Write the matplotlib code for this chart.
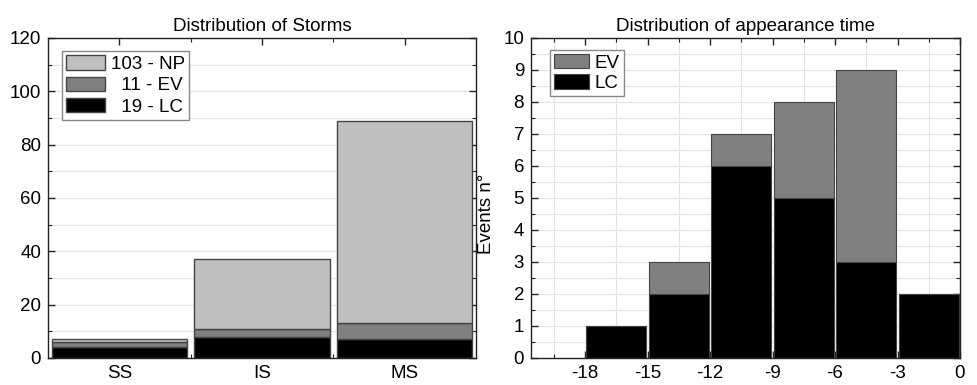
import numpy as np
import matplotlib
matplotlib.use('Agg')
import matplotlib.pyplot as plt
from matplotlib.ticker import MultipleLocator, FixedLocator

plt.rcParams['font.family'] = ['Liberation Sans', 'DejaVu Sans']
plt.rcParams['font.size'] = 13.5
plt.rcParams['axes.unicode_minus'] = False

# left panel: storm classes
storm_classes = ['SS', 'IS', 'MS']
storm_lc = [4, 8, 7]
storm_ev = [2, 3, 6]
storm_np = [1, 26, 76]

# right panel: appearance time bins (left edge of each 3-unit bin)
time_bins = [-18, -15, -12, -9, -6, -3]
time_lc = [1, 2, 6, 5, 3, 2]
time_ev = [0, 1, 1, 3, 6, 0]

c_np = '#c0c0c0'
c_ev = '#808080'
c_lc = '#000000'
edge = '#444444'
fs = 13.5

fig = plt.figure(figsize=(9.78, 3.85), dpi=100)
ax1 = fig.add_axes([48 / 978, 27 / 385, 428 / 978, 320 / 385])
ax2 = fig.add_axes([531 / 978, 27 / 385, 429 / 978, 320 / 385])

# ---- left ----
x = np.arange(len(storm_classes))
lc = np.array(storm_lc)
ev = np.array(storm_ev)
npv = np.array(storm_np)
w = 0.95
ax1.bar(x, lc, w, color=c_lc, edgecolor=edge, lw=1, zorder=3,
        label=f'\u2007{lc.sum()} - LC')
ax1.bar(x, ev, w, bottom=lc, color=c_ev, edgecolor=edge, lw=1, zorder=3,
        label=f'\u2007{ev.sum()} - EV')
ax1.bar(x, npv, w, bottom=lc + ev, color=c_np, edgecolor=edge, lw=1, zorder=3,
        label=f'{npv.sum()} - NP')
ax1.set_xlim(-0.5, 2.5)
ax1.set_ylim(0, 120)
ax1.set_xticks(x)
ax1.set_xticklabels(storm_classes)
ax1.xaxis.set_minor_locator(FixedLocator([0.5, 1.5]))
ax1.yaxis.set_major_locator(MultipleLocator(20))
ax1.yaxis.set_minor_locator(MultipleLocator(10))
ax1.grid(True, which='both', axis='y', color='#e4e4e4', lw=0.8, zorder=0)
ax1.set_title('Distribution of Storms', fontsize=fs, pad=5)
h, l = ax1.get_legend_handles_labels()
ax1.legend(h[::-1], l[::-1], loc='upper left', bbox_to_anchor=(0.033, 0.958),
           borderaxespad=0, fancybox=False, edgecolor='#888888', framealpha=1,
           handlelength=2.1, handleheight=0.8, labelspacing=0.2,
           handletextpad=0.3, borderpad=0.2, fontsize=fs)

# ---- right ----
tb = np.array(time_bins) + 1.5
tlc = np.array(time_lc)
tev = np.array(time_ev)
ax2.bar(tb, tlc, 2.88, color=c_lc, edgecolor=edge, lw=0.8, zorder=3, label='LC')
ax2.bar(tb, tev, 2.88, bottom=tlc, color=c_ev, edgecolor=edge, lw=0.8, zorder=3,
        label='EV')
ax2.set_xlim(-20.6, 0)
ax2.set_ylim(0, 10)
ax2.xaxis.set_major_locator(FixedLocator(np.arange(-18, 1, 3)))
ax2.xaxis.set_minor_locator(FixedLocator(np.arange(-19.5, 0, 3)))
ax2.yaxis.set_major_locator(MultipleLocator(1))
ax2.yaxis.set_minor_locator(MultipleLocator(0.5))
ax2.grid(True, which='both', axis='y', color='#e4e4e4', lw=0.8, zorder=0)
ax2.grid(True, which='minor', axis='x', color='#e4e4e4', lw=0.8, zorder=0)
ax2.set_title('Distribution of appearance time', fontsize=fs, pad=5)
ax2.set_ylabel('Events n°', fontsize=fs)
ax2.yaxis.set_label_coords(-0.085, 0.45)
h, l = ax2.get_legend_handles_labels()
ax2.legend(h[::-1], l[::-1], loc='upper left', bbox_to_anchor=(0.044, 0.962),
           borderaxespad=0, fancybox=False, edgecolor='#888888', framealpha=1,
           handlelength=1.9, handleheight=0.8, labelspacing=0.15,
           handletextpad=0.3, borderpad=0.2, fontsize=fs)

for ax in (ax1, ax2):
    ax.tick_params(which='both', direction='in', top=True, right=True,
                   labelsize=fs, color='#222222', pad=5)
    ax.tick_params(which='major', length=5, width=1)
    ax.tick_params(which='minor', length=3, width=0.8)
    for s in ax.spines.values():
        s.set_color('#222222')
        s.set_linewidth(1)
        s.set_zorder(4)
    ax.set_axisbelow(False)

fig.savefig('out.png', dpi=100)
